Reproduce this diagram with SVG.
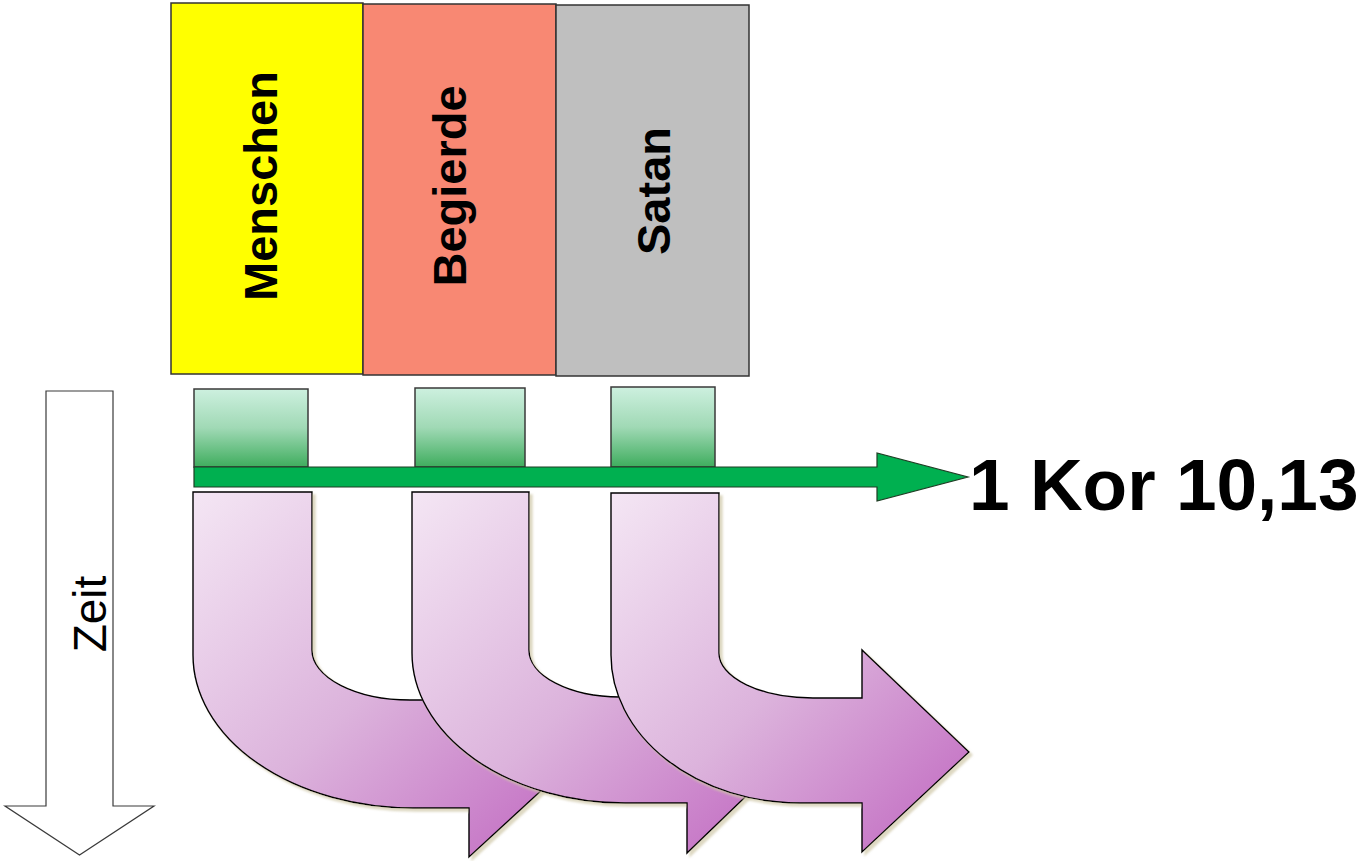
<svg xmlns="http://www.w3.org/2000/svg" width="1365" height="861" viewBox="0 0 1365 861">
  <defs>
    <linearGradient id="gGreen" x1="0" y1="0" x2="0" y2="1">
      <stop offset="0" stop-color="#cdf0df"/>
      <stop offset="0.5" stop-color="#a0d9b5"/>
      <stop offset="1" stop-color="#3fad5e"/>
    </linearGradient>
    <linearGradient id="gPurple" x1="0" y1="0" x2="1" y2="1">
      <stop offset="0" stop-color="#f4e6f4"/>
      <stop offset="0.5" stop-color="#dcb3dc"/>
      <stop offset="1" stop-color="#c066c0"/>
    </linearGradient>
    <filter id="shadow" x="-5%" y="-5%" width="115%" height="115%">
      <feDropShadow dx="3" dy="3" stdDeviation="1.2" flood-color="#cfc8a8" flood-opacity="0.7"/>
    </filter>
  </defs>
  <style>
    .top { stroke: #333333; stroke-width: 1.5; }
    .lbl { font-family: "Liberation Sans", Arial, sans-serif; font-weight: bold; font-size: 47px; fill: #000; }
    .gbox { fill: url(#gGreen); stroke: #3a3a3a; stroke-width: 1.5; }
    .parrow { fill: url(#gPurple); stroke: #000000; stroke-width: 1.4; filter: url(#shadow); }
  </style>
  <rect width="1365" height="861" fill="#ffffff"/>

  <g id="menschen">
    <rect class="top" x="171" y="3" width="192" height="371" fill="#ffff00"/>
    <text class="lbl" text-anchor="middle" transform="translate(277,186) rotate(-90)">Menschen</text>
  </g>
  <g id="begierde">
    <rect class="top" x="363" y="4" width="193" height="371" fill="#f88873"/>
    <text class="lbl" text-anchor="middle" transform="translate(466,186) rotate(-90)">Begierde</text>
  </g>
  <g id="satan">
    <rect class="top" x="556" y="5" width="193" height="371" fill="#bfbfbf"/>
    <text class="lbl" text-anchor="middle" transform="translate(670,191) rotate(-90)">Satan</text>
  </g>

  <g id="zeit">
    <path d="M46,391 H113 V806 H154 L79.5,855 L5,806 H46 Z" fill="#ffffff" stroke="#3a3a3a" stroke-width="1.2"/>
    <text transform="translate(106,614) rotate(-90)" text-anchor="middle" font-family="Liberation Sans, Arial, sans-serif" font-size="46" fill="#000">Zeit</text>
  </g>

  <g id="step-boxes">
    <rect class="gbox" x="194" y="389" width="114" height="78"/>
    <rect class="gbox" x="415" y="388" width="110" height="79"/>
    <rect class="gbox" x="611" y="387" width="104" height="80"/>
  </g>

  <g id="purple-arrows">
    <path class="parrow" d="M193,492 H312 V650 A98 50 0 0 0 410,700 H469 V651 L581,754 L469,857 V808 H413 A220 153 0 0 1 193,655 Z"/>
    <path class="parrow" d="M412,492 H529 V650 A91 47 0 0 0 620,697 H687 V647 L794,750 L687,853 V803 H625 A213 150 0 0 1 412,653 Z"/>
    <path class="parrow" d="M611,493 H719 V653 A94 45 0 0 0 813,698 H862 V650 L969,752 L862,852 V803 H800 A189 148 0 0 1 611,655 Z"/>
  </g>

  <g id="connectors">
    <path d="M194,467 H877 V453 L968,477 L877,501 V487 H194 Z" fill="#00b050" stroke="#1f3d24" stroke-width="1.2"/>
  </g>

  <g id="reference">
    <text x="969" y="510" font-family="Liberation Sans, Arial, sans-serif" font-weight="bold" font-size="73" fill="#000">1 Kor 10,13</text>
  </g>
</svg>
